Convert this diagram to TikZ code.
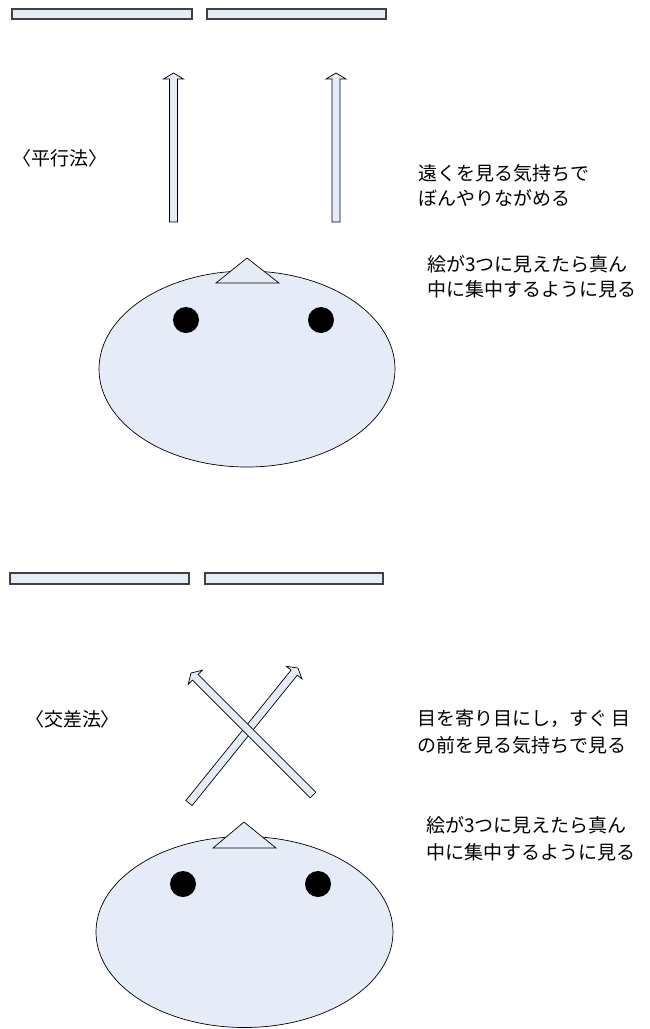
\documentclass[tikz,border=0pt]{standalone}
\usepackage{fontspec}
\newfontfamily\jp{Noto Sans CJK JP}
\definecolor{facefill}{RGB}{230,236,247}
\tikzset{
  shapefill/.style={fill=facefill, draw=black, line width=0.7pt, line join=miter},
  barbox/.style={fill=facefill, draw=black!75, line width=1.3pt},
  eyedot/.style={fill=black},
  jtext/.style={font=\jp\fontsize{19}{25}\selectfont, inner sep=0pt, align=left, anchor=west},
  jtextwide/.style={jtext, font=\jp\fontsize{19}{27}\selectfont},
  headlabel/.style={font=\jp\fontsize{19}{25}\selectfont, inner sep=0pt},
}
% x y angle length
\newcommand\blkarrow[4]{%
  \begin{scope}[shift={(#1,#2)}, rotate=#3]
    \filldraw[shapefill] (0,4) -- ({#4-6},4) -- ({#4-6},10) -- (#4,0) -- ({#4-6},-10) -- ({#4-6},-4) -- (0,-4) -- cycle;
  \end{scope}}
\begin{document}
\begin{tikzpicture}[x=1pt, y=-1pt]
\useasboundingbox (0,0) rectangle (649,1029);

% ---------- top: parallel method ----------
\draw[barbox] (12,9) rectangle (192,19);
\draw[barbox] (207,9) rectangle (386,19);

\blkarrow{173.5}{222}{90}{149}
\blkarrow{336}{222}{90}{149}

\node[headlabel] (parallel) at (60,158) {〈平行法〉};
\node[jtext] (far) at (418,185) {遠くを見る気持ちで\\ぼんやりながめる};
\node[jtext] (three1) at (427,277) {絵が3つに見えたら真ん\\中に集中するように見る};

\filldraw[shapefill] (247,369) ellipse [x radius=148, y radius=98];
\filldraw[shapefill] (216,283) -- (247,258) -- (279,283) -- cycle;
\fill[eyedot] (186,320) circle (13);
\fill[eyedot] (321,320) circle (13);

% ---------- bottom: cross method ----------
\draw[barbox] (10,573) rectangle (189,584);
\draw[barbox] (205,573) rectangle (383,584);

\blkarrow{189}{803}{51.1}{173.5}
\blkarrow{313}{795}{135}{172.5}

\node[headlabel] (cross) at (72.5,719) {〈交差法〉};
\node[jtextwide] (near) at (417,732) {目を寄り目にし，すぐ 目\\の前を見る気持ちで見る};
\node[jtextwide] (three2) at (426,839) {絵が3つに見えたら真ん\\中に集中するように見る};

\filldraw[shapefill] (244.5,932) ellipse [x radius=148.5, y radius=95.5];
\filldraw[shapefill] (213,848) -- (244,822) -- (276,848) -- cycle;
\fill[eyedot] (183,884) circle (13);
\fill[eyedot] (318,884) circle (13);
\end{tikzpicture}
\end{document}
